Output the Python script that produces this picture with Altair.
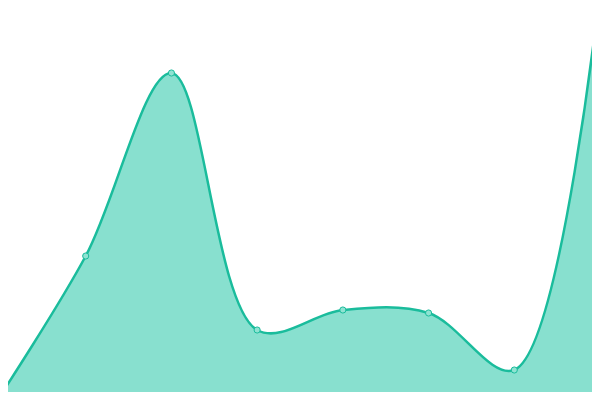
import altair as alt
import pandas as pd

xs = [0, 1, 2, 3, 4, 5, 6, 7]
values = [4, 144, 327, 70, 90, 87, 30, 412]

df = pd.DataFrame({"x": xs, "v": values})

LINE = "#1abc9c"
FILL = "#88e0cf"

xsc = alt.Scale(domain=[0, 7], nice=False, zero=False)
ysc = alt.Scale(domain=[0, 400], nice=False)

base = alt.Chart(df).encode(
    x=alt.X("x:Q", scale=xsc, axis=None),
    y=alt.Y("v:Q", scale=ysc, axis=None),
)

area = base.mark_area(
    interpolate="catmull-rom", color=FILL, opacity=1,
    line={"color": LINE, "strokeWidth": 2.5},
)
pts = base.mark_point(
    filled=True, size=38, fill="#8fe3d2", stroke=LINE, strokeWidth=1, opacity=1
)

chart = (area + pts).properties(
    width=600, height=400,
    padding={"left": -8, "top": -8, "right": -8, "bottom": -8},
    autosize=alt.AutoSizeParams(type="none"),
).configure_view(strokeWidth=0, stroke=None).configure(background="white")

chart.save("out.html", embed_options={"renderer": "svg", "actions": False})
